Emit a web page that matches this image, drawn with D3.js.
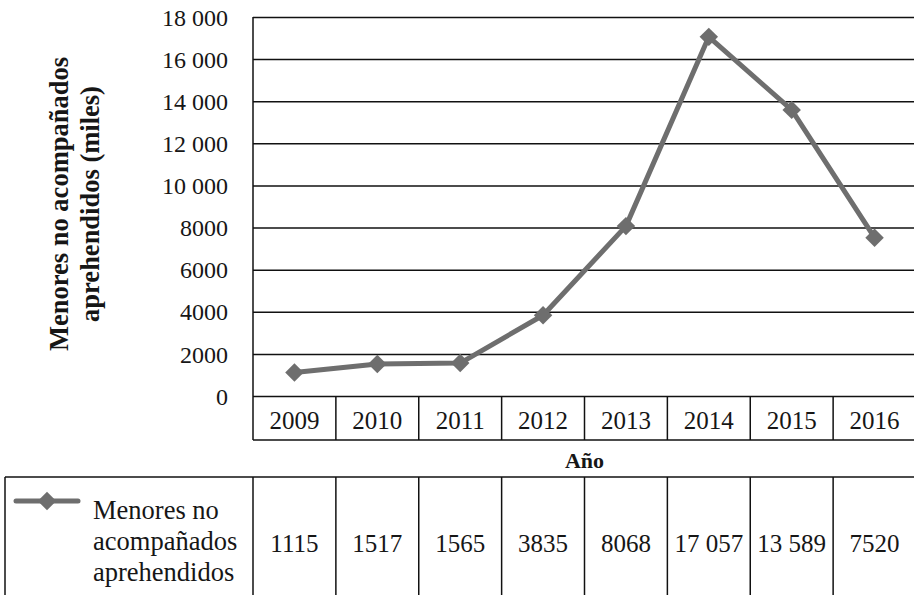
<!DOCTYPE html>
<html>
<head>
<meta charset="utf-8">
<script src="https://cdn.jsdelivr.net/npm/d3@7"></script>
<style>
  body { margin: 0; background: #fff; }
  svg text { font-family: "Liberation Serif", "Times New Roman", serif; }
  .grid line, .domain { stroke: #111; }
</style>
</head>
<body>
<script>
const years = ["2009", "2010", "2011", "2012", "2013", "2014", "2015", "2016"];
const menores = [1115, 1517, 1565, 3835, 8068, 17057, 13589, 7520];
const yTicks = [0, 2000, 4000, 6000, 8000, 10000, 12000, 14000, 16000, 18000];
const seriesName = ["Menores no", "acompañados", "aprehendidos"];
const yTitle = ["Menores no acompañados", "aprehendidos (miles)"];

const W = 914, H = 595;
const plot = { left: 253, right: 916, top: 17, bottom: 396 };
const catRowBottom = 440;
const tableTop = 477, tableLeft = 5;
const lineColor = "#6e6e6e";
const textColor = "#161616";

// numbers like "17 057", but 4-digit values stay plain
const fmt = v => v >= 10000 ? d3.format(",")(v).replace(/,/g, " ") : String(v);

const svg = d3.select("body").append("svg")
	.attr("width", W)
	.attr("height", H)
	.attr("font-family", "Liberation Serif");

const x = d3.scaleBand()
	.domain(years)
	.range([plot.left, plot.right])
	.padding(0);
const y = d3.scaleLinear()
	.domain([0, 18000])
	.range([plot.bottom, plot.top]);

// gridlines
svg.append("g")
	.attr("class", "grid")
	.attr("transform", `translate(${plot.left},0)`)
	.call(d3.axisLeft(y).tickValues(yTicks).tickSize(-(W - plot.left)).tickFormat(""))
	.call(g => g.select(".domain").remove())
	.selectAll("line").attr("stroke-width", 1.5);

// y tick labels
svg.append("g")
	.attr("transform", `translate(${plot.left - 25},0)`)
	.call(d3.axisLeft(y).tickValues(yTicks).tickSize(0).tickPadding(0).tickFormat(fmt))
	.attr("font-family", "Liberation Serif")
	.attr("font-size", null)
	.call(g => g.select(".domain").remove())
	.selectAll("text")
	.attr("fill", textColor)
	.style("font-size", "24px")
	.attr("dy", "0.34em");

// y axis line down to category row
svg.append("line")
	.attr("x1", plot.left).attr("x2", plot.left)
	.attr("y1", plot.top).attr("y2", catRowBottom)
	.attr("stroke", "#111").attr("stroke-width", 1.5);

// category row bottom + separators
svg.append("line")
	.attr("x1", plot.left).attr("x2", W)
	.attr("y1", catRowBottom).attr("y2", catRowBottom)
	.attr("stroke", "#111").attr("stroke-width", 1.5);
svg.append("g").selectAll("line")
	.data(years.slice(1))
	.join("line")
	.attr("x1", d => x(d)).attr("x2", d => x(d))
	.attr("y1", plot.bottom).attr("y2", catRowBottom)
	.attr("stroke", "#111").attr("stroke-width", 1.5);
svg.append("g").selectAll("text")
	.data(years)
	.join("text")
	.attr("x", d => x(d) + x.bandwidth() / 2)
	.attr("y", 429)
	.attr("text-anchor", "middle")
	.attr("fill", textColor)
	.style("font-size", "25px")
	.text(d => d);

// x axis title
svg.append("text")
	.attr("x", (plot.left + plot.right) / 2)
	.attr("y", 468)
	.attr("text-anchor", "middle")
	.attr("fill", textColor)
	.style("font-size", "22px")
	.style("font-weight", "bold")
	.text("Año");

// y axis title
svg.append("g").selectAll("text")
	.data(yTitle)
	.join("text")
	.attr("transform", (d, i) => `translate(${68 + i * 31},204) rotate(-90)`)
	.attr("text-anchor", "middle")
	.attr("fill", textColor)
	.style("font-size", "26.5px")
	.style("font-weight", "bold")
	.text(d => d);

// series line
const pts = years.map((d, i) => [x(d) + x.bandwidth() / 2, y(menores[i])]);
svg.append("path")
	.attr("d", d3.line()(pts))
	.attr("fill", "none")
	.attr("stroke", lineColor)
	.attr("stroke-width", 5)
	.attr("stroke-linejoin", "round");

const marker = d3.symbol().type(d3.symbolSquare).size(170);
svg.append("g").selectAll("path")
	.data(pts)
	.join("path")
	.attr("transform", d => `translate(${d[0]},${d[1]}) rotate(45)`)
	.attr("d", marker)
	.attr("fill", lineColor);

// data table
svg.append("line")
	.attr("x1", tableLeft).attr("x2", W)
	.attr("y1", tableTop).attr("y2", tableTop)
	.attr("stroke", "#111").attr("stroke-width", 1.5);
svg.append("g").selectAll("line")
	.data([tableLeft].concat(years.map(d => x(d))))
	.join("line")
	.attr("x1", d => d).attr("x2", d => d)
	.attr("y1", tableTop).attr("y2", H)
	.attr("stroke", "#111").attr("stroke-width", 1.5);

svg.append("g").selectAll("text")
	.data(menores)
	.join("text")
	.attr("x", (d, i) => x(years[i]) + x.bandwidth() / 2)
	.attr("y", 552)
	.attr("text-anchor", "middle")
	.attr("fill", textColor)
	.style("font-size", "25px")
	.text(d => fmt(d));

// legend key
svg.append("line")
	.attr("x1", 16).attr("x2", 78)
	.attr("y1", 501).attr("y2", 501)
	.attr("stroke", lineColor).attr("stroke-width", 5)
	.attr("stroke-linecap", "round");
svg.append("path")
	.attr("transform", "translate(47,501) rotate(45)")
	.attr("d", marker)
	.attr("fill", lineColor);
svg.append("g").selectAll("text")
	.data(seriesName)
	.join("text")
	.attr("x", 93)
	.attr("y", (d, i) => 519 + i * 31)
	.attr("fill", textColor)
	.style("font-size", "26.5px")
	.text(d => d);
</script>
</body>
</html>
